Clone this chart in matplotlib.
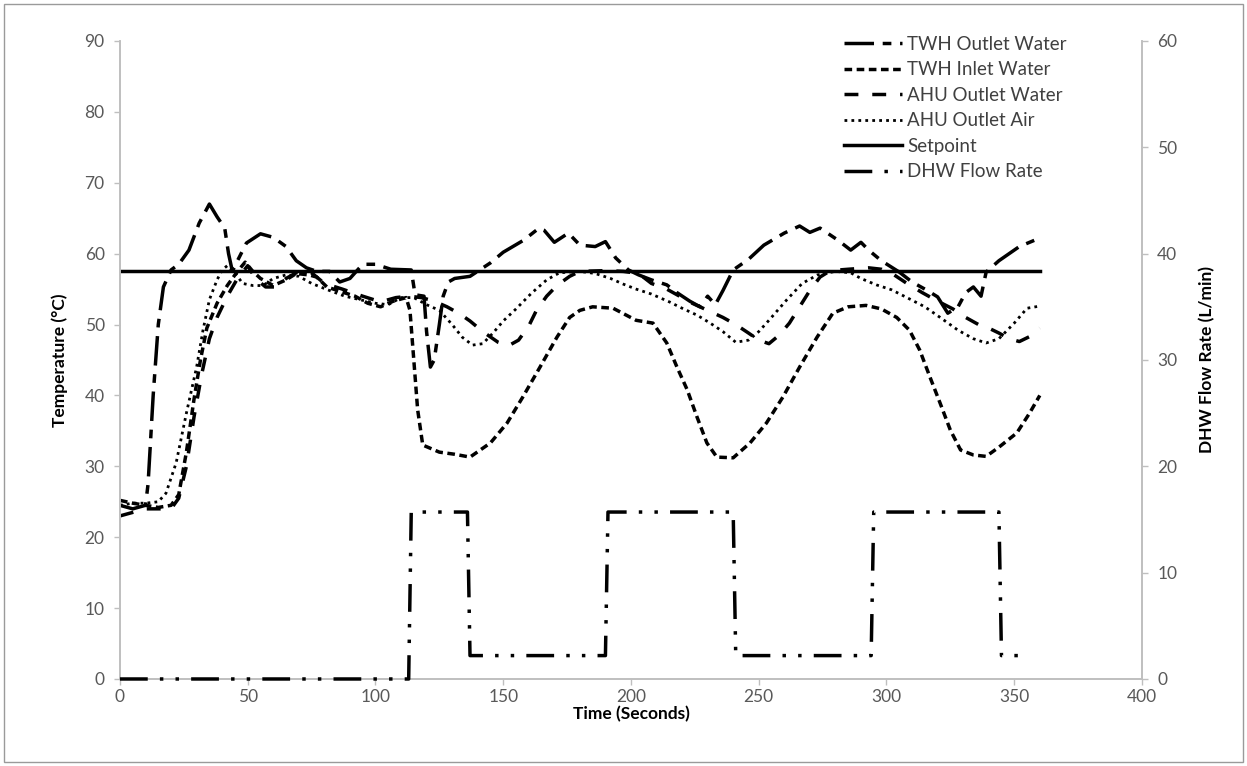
import matplotlib
matplotlib.use("Agg")
import matplotlib.pyplot as plt
from matplotlib.patches import Rectangle

plt.rcParams['font.family'] = ['Lato', 'DejaVu Sans']

# TWH outlet water temperature (deg C)
twh_out_t = [0, 5, 10, 11, 13, 15, 17, 20, 23, 27, 31, 35, 38, 41, 42.5, 44, 46, 49.5, 55, 60,
             65, 69, 73, 77, 82, 86, 90, 95, 100, 106, 114, 115.5, 119, 120, 121.5, 123, 125,
             126.5, 128.5, 131, 137, 145, 150, 158, 164, 166, 170, 175.5, 180, 186, 190, 194,
             199, 203, 208, 214, 218, 223, 227, 230, 233, 236, 240, 246, 252, 260, 266, 270,
             274, 281, 286, 290, 293, 298, 305, 310, 316, 320, 324, 328, 331, 334, 337, 339,
             344, 352, 360]
twh_out_v = [24.5, 24, 24.5, 27.5, 40, 50, 55.3, 57.7, 58.5, 60.5, 64.3, 67, 65.2, 63.6, 60, 57.5,
             59, 61.5, 62.8, 62.3, 61, 59, 58, 57.5, 57.5, 56, 56.5, 58.5, 58.5, 57.8, 57.7, 54.2,
             54, 49, 44, 45, 50, 54, 56, 56.5, 56.8, 58.7, 60.2, 61.9, 63.6, 63.3, 61.6, 62.9,
             61.2, 61, 61.7, 59.4, 57.7, 57, 56.3, 55.6, 54.5, 53.3, 52.5, 54, 52.8, 54.8, 57.7,
             59.2, 61.2, 62.9, 63.9, 63, 63.6, 61.9, 60.5, 61.6, 60.5, 59, 57.4, 56, 54.8, 53.9,
             51.6, 52.5, 54.5, 55.3, 54, 57.4, 59, 61, 62.2]

# TWH inlet water temperature (deg C)
twh_in_t = [0, 5, 10, 15, 20, 23, 26, 29, 31.5, 34, 38, 42, 46, 49, 52, 55, 60, 65, 69, 74, 77,
            81, 86, 92, 97, 102, 107, 112, 113.5, 115, 116.5, 118.5, 125, 131, 137, 145, 151.5,
            157.7, 164.4, 171, 176, 180, 185, 193, 202, 208.6, 214, 218, 222, 225.8, 229.7,
            233.6, 240, 246.6, 253, 259.5, 266, 272.8, 279, 285, 292, 298, 304, 309, 313, 317,
            321, 325, 329, 334, 339, 344, 351, 356, 360]
twh_in_v = [25.2, 24.8, 24.5, 24.2, 24.5, 26, 32, 39.5, 45, 49.5, 53, 55.5, 57.5, 58.8, 57.5, 56.5,
            55.5, 56.3, 57.2, 57, 56.7, 55.3, 54.7, 54, 53, 52.5, 53.3, 53.8, 52, 45, 38, 33,
            32, 31.7, 31.3, 33.3, 36.1, 39.8, 44, 48.2, 51, 52, 52.5, 52.3, 50.6, 50.2, 47.4,
            44, 40.8, 37, 33.3, 31.3, 31.2, 33.3, 36.1, 39.8, 44, 48.2, 51.6, 52.5, 52.7, 52.2,
            51, 49.2, 46.4, 42.6, 38.9, 35.1, 32.3, 31.6, 31.4, 32.7, 34.7, 37.5, 40]

# AHU outlet water temperature (deg C)
ahu_w_t = [0, 5, 10, 15, 20, 23, 26, 29, 32, 35, 38, 42, 46, 50, 53, 57, 61, 65, 70, 75, 80, 87,
           95, 102, 108, 113, 118, 123, 128, 133, 137, 142, 148, 152, 156, 160, 163, 167, 171,
           176, 180, 190, 197, 203, 208, 214, 219, 224, 230, 236, 241, 246, 250, 254, 258, 262,
           266, 270, 274, 278, 285, 293, 298, 303, 308, 314, 320, 326, 331, 336, 340, 344, 348,
           352, 356, 360]
ahu_w_v = [23, 23.5, 24, 24, 24, 25.5, 30, 37, 43, 48, 51, 54, 56.5, 58.3, 56.5, 55.3, 55.3, 56.5,
           57.5, 57.3, 55.8, 55, 54, 53.2, 53.8, 54, 53.8, 53.3, 52.5, 51.5, 50.5, 49, 47.5, 47,
           47.8, 49.8, 52, 54, 55.5, 56.8, 57.5, 57.6, 57.5, 57.2, 55.8, 55, 54, 53, 52, 51, 50,
           48.8, 47.8, 47.3, 48.5, 50.2, 52.5, 54.8, 56.7, 57.6, 57.8, 58, 57.8, 57, 55.8, 54.5,
           53.3, 52.2, 51, 50, 49.5, 48.8, 48, 47.6, 48.3, 49.5]

# AHU outlet air temperature (deg C)
ahu_a_t = [0, 5, 10, 15, 18, 22, 26, 30, 32.5, 35, 38, 40, 42, 45, 48, 52, 56, 60, 65, 70, 75, 82,
           88, 94, 100, 105, 110, 115, 120, 125, 130, 134, 138, 142, 146, 150, 155, 161, 167, 172,
           180, 186, 192, 197, 202, 208, 215, 220, 226, 231, 236, 241, 246, 250, 254, 261, 267,
           273, 280, 286, 290, 296, 302, 308, 315, 321, 328, 334, 339, 344, 350, 355, 360]
ahu_a_v = [24.5, 24.8, 24.8, 25, 26.2, 30.5, 37.5, 44, 49.2, 53.5, 56.3, 57.7, 58.3, 57.3, 55.8,
           55.5, 55.5, 56.5, 57, 56.8, 55.8, 54.8, 54, 53.5, 53, 52.8, 53.8, 53.8, 52.8, 52, 50,
           48.2, 47.1, 47.3, 48.8, 50.5, 52.2, 54.4, 56.3, 57.3, 57.5, 57.2, 56.5, 55.7, 55, 54.3,
           53.2, 52.3, 51.3, 50.2, 49, 47.5, 47.8, 49, 50.6, 53.5, 55.8, 57, 57.5, 57.3, 56.5,
           55.6, 54.9, 53.8, 52.5, 51, 49.2, 48, 47.4, 48, 50.2, 52.3, 52.6]

# setpoint (deg C)
setpoint_t = [0, 360]
setpoint_v = [57.5, 57.5]

# DHW flow rate (L/min)
flow_t = [0, 113, 114, 136, 137, 190, 191, 240, 241, 294, 295, 344, 345, 355]
flow_v = [0, 0, 15.7, 15.7, 2.2, 2.2, 15.7, 15.7, 2.2, 2.2, 15.7, 15.7, 2.2, 2.2]

grey = '#bfbfbf'
tick_txt = '#595959'

fig = plt.figure(figsize=(12.47, 7.66), dpi=100)
fig.patches.append(Rectangle((0.003, 0.005), 0.994, 0.99, transform=fig.transFigure,
                             fill=False, edgecolor='#9a9a9a', linewidth=1))
ax = fig.add_axes([0.0962, 0.1136, 0.8196, 0.8329])
ax2 = ax.twinx()

h1, = ax.plot(twh_out_t, twh_out_v, color='black', lw=2.5, dashes=(8.5, 2.5, 2.5, 2.5),
              label='TWH Outlet Water')
h2, = ax.plot(twh_in_t, twh_in_v, color='black', lw=2.5, dashes=(2.2, 1.3),
              label='TWH Inlet Water')
h3, = ax.plot(ahu_w_t, ahu_w_v, color='black', lw=2.5, dashes=(4, 4),
              label='AHU Outlet Water')
h4, = ax.plot(ahu_a_t, ahu_a_v, color='black', lw=2, dashes=(1, 1.5),
              label='AHU Outlet Air')
h5, = ax.plot(setpoint_t, setpoint_v, color='black', lw=2.5, label='Setpoint')
h6, = ax2.plot(flow_t, flow_v, color='black', lw=2.5, dashes=(8, 3.5, 1, 3.5, 1, 3.5),
               label='DHW Flow Rate', clip_on=False, zorder=4)

ax.set_xlim(0, 400)
ax.set_ylim(0, 90)
ax2.set_ylim(0, 60)
ax.set_xticks(range(0, 401, 50))
ax.set_yticks(range(0, 91, 10))
ax2.set_yticks(range(0, 61, 10))

for a in (ax, ax2):
    a.spines['top'].set_visible(False)
    for s in ('left', 'right', 'bottom'):
        a.spines[s].set_color(grey)
        a.spines[s].set_linewidth(1.2)
    a.tick_params(direction='out', length=4, width=1, color=grey, labelcolor=tick_txt,
                  labelsize=12.5, pad=7)
ax.tick_params(axis='x', pad=3)

ax.set_xlabel('Time (Seconds)', fontsize=12.5, fontweight='bold', labelpad=1)
ax.set_ylabel('Temperature (°C)', fontsize=12.5, fontweight='bold', labelpad=12)
ax2.set_ylabel('DHW Flow Rate (L/min)', fontsize=12.5, fontweight='bold', labelpad=15.5)

ax.legend(handles=[h1, h2, h3, h4, h5, h6], loc='upper left', bbox_to_anchor=(0.708, 1.008),
          frameon=False, fontsize=13.5, handlelength=3.1, handletextpad=0.3,
          labelspacing=0.45, borderpad=0, borderaxespad=0, labelcolor='#404040')

fig.savefig('out.png', dpi=100)
